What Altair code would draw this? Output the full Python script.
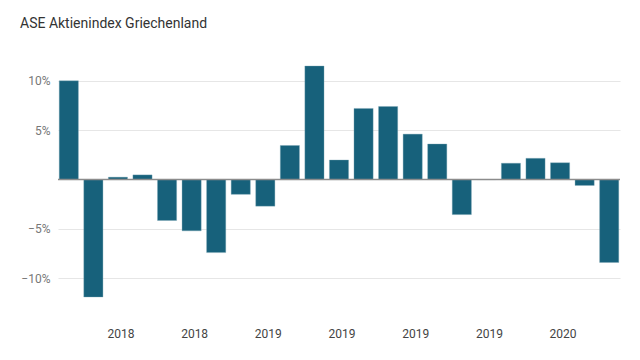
import altair as alt
import pandas as pd

title_text = ["ASE Aktienindex Griechenland"]
months = ["2018-05", "2018-06", "2018-07", "2018-08", "2018-09", "2018-10", "2018-11", "2018-12",
          "2019-01", "2019-02", "2019-03", "2019-04", "2019-05", "2019-06", "2019-07", "2019-08",
          "2019-09", "2019-10", "2019-11", "2019-12", "2020-01", "2020-02", "2020-03"]
values = [10.0, -11.9, 0.24, 0.47, -4.15, -5.2, -7.4, -1.5, -2.7, 3.45, 11.5,
          1.98, 7.2, 7.4, 4.6, 3.6, -3.55, 0.0, 1.65, 2.15, 1.7, -0.6, -8.4]
y_ticks = [-10, -5, 5, 10]

df = pd.DataFrame({"month": months, "value": values})
ydom = alt.Scale(domain=[-12, 11.5], nice=False, zero=False)

x = alt.X("month:O", sort=months, title=None,
          scale=alt.Scale(paddingInner=0.22, paddingOuter=0.05),
          axis=alt.Axis(labelAngle=0, ticks=False, domain=False, grid=False,
                        labelPadding=30, labelOffset=3, labelFont="Roboto", labelFontSize=12,
                        labelColor="#444444",
                        labelExpr="(indexof(['01','04','07','10'], substring(datum.value, 5, 7)) >= 0) ? substring(datum.value, 0, 4) : ''"))

bars = alt.Chart(df).mark_bar(color="#17617b", stroke="#7fa8b7", strokeWidth=0.6, strokeOpacity=0.6).encode(
    x=x,
    y=alt.Y("value:Q", title=None, scale=ydom,
            axis=alt.Axis(values=y_ticks, ticks=False, domain=False, grid=True,
                          gridColor="#e6e6e6", gridWidth=1.2, labelPadding=8,
                          labelFont="Roboto", labelFontSize=12, labelColor="#777777",
                          labelExpr="replace(datum.value + '%', '-', '−')")),
)

zero = alt.Chart(pd.DataFrame({"z": [0]})).mark_rule(color="#8c8c8c", strokeWidth=1.5).encode(
    y=alt.Y("z:Q", scale=ydom)
)

title = alt.Chart(pd.DataFrame({"t": title_text})).mark_text(
    align="left", baseline="alphabetic", font="Roboto", fontSize=14, color="#333333"
).encode(x=alt.value(-38), y=alt.value(-38), text="t:N")

chart = alt.layer(bars, zero, title).properties(
    width=562, height=232,
    autosize=alt.AutoSizeParams(type="none"),
    padding={"left": 50, "top": 58, "right": 12, "bottom": 50},
).configure_view(stroke=None)

chart.save("out.html", embed_options={"renderer": "svg", "actions": False})
